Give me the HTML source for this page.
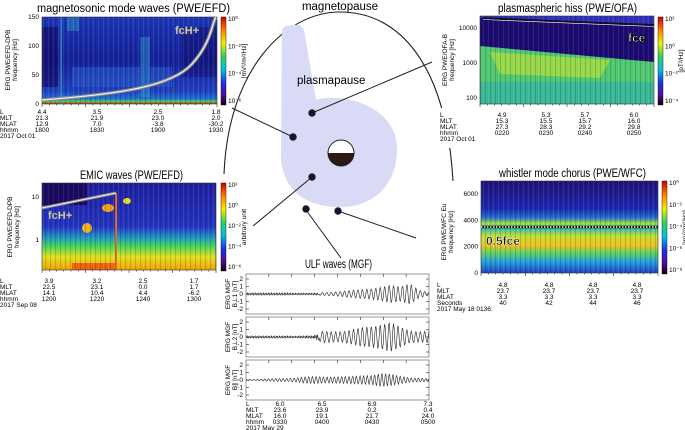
<!DOCTYPE html>
<html><head><meta charset="utf-8">
<style>
html,body{margin:0;padding:0;background:#fff;}
svg{display:block;font-family:"Liberation Sans",sans-serif;}
.t{font-size:6.5px;fill:#000;}
.ttl{font-size:11.5px;fill:#000;}
</style></head>
<body>
<svg id="fig" width="685" height="430" viewBox="0 0 685 430" xmlns="http://www.w3.org/2000/svg">
<defs>
<linearGradient id="jet" x1="0" y1="0" x2="0" y2="1">
<stop offset="0" stop-color="#d00000"/><stop offset="0.15" stop-color="#ff8000"/><stop offset="0.3" stop-color="#f0f000"/>
<stop offset="0.45" stop-color="#30d060"/><stop offset="0.6" stop-color="#00c0e0"/><stop offset="0.75" stop-color="#2030e0"/>
<stop offset="0.88" stop-color="#5010a0"/><stop offset="1" stop-color="#100010"/></linearGradient>
<linearGradient id="ms" x1="0" y1="0" x2="0" y2="1">
<stop offset="0" stop-color="#1c36b8"/><stop offset="0.5" stop-color="#16229a"/><stop offset="0.85" stop-color="#2040c0"/><stop offset="0.94" stop-color="#2070d0"/><stop offset="0.97" stop-color="#40d060"/><stop offset="1" stop-color="#e02000"/></linearGradient>
<linearGradient id="ch" x1="0" y1="0" x2="0" y2="1">
<stop offset="0" stop-color="#24107a"/><stop offset="0.3" stop-color="#1c28b0"/><stop offset="0.4" stop-color="#2470d0"/><stop offset="0.46" stop-color="#a0e040"/><stop offset="0.52" stop-color="#40c0a0"/><stop offset="0.6" stop-color="#c0e030"/><stop offset="0.7" stop-color="#f0c020"/><stop offset="0.78" stop-color="#60d060"/><stop offset="0.88" stop-color="#20a0e0"/><stop offset="1" stop-color="#2040c0"/></linearGradient>
<linearGradient id="em" x1="0" y1="0" x2="0" y2="1">
<stop offset="0" stop-color="#2020a0"/><stop offset="0.5" stop-color="#2434c0"/><stop offset="0.62" stop-color="#2090c8"/><stop offset="0.72" stop-color="#40d060"/><stop offset="0.85" stop-color="#e0e020"/><stop offset="1" stop-color="#f0a000"/></linearGradient>
<pattern id="stripes" width="5" height="10" patternUnits="userSpaceOnUse"><rect width="1" height="10" fill="#000" opacity="0.15"/><rect x="3" width="1" height="10" fill="#fff" opacity="0.08"/></pattern>
</defs>

<g>
<path d="M224,174 C228,70 285,12 340,12 C398,12 446,62 453,181" fill="none" stroke="#222" stroke-width="1.1"/>
<path d="M282,30 Q284,24 300,25 L304,30 L316,100 C340,92 398,105 397,150 C396,195 362,209 335,207 C300,205 284,186 281,160 Z" fill="#d8daf6"/>
<text class="ttl" x="340" y="10" text-anchor="middle" font-size="10.5">magnetopause</text>
<text class="ttl" x="297" y="84" font-size="10.5">plasmapause</text>
<g><circle cx="341" cy="153" r="13" fill="#fff" stroke="#222" stroke-width="1"/><path d="M328,153 A13,13 0 0 0 354,153 Z" fill="#2a1a14"/></g>
<g stroke="#222" stroke-width="1" fill="#1a1030">
<line x1="293" y1="137" x2="232" y2="108"/><line x1="312" y1="113" x2="432" y2="62"/><line x1="312" y1="177" x2="253" y2="226"/><line x1="306" y1="210" x2="341" y2="258"/><line x1="338" y1="211" x2="416" y2="238"/>
<circle cx="293" cy="137" r="3.2"/><circle cx="312" cy="113" r="3.2"/><circle cx="312" cy="177" r="3.2"/><circle cx="306" cy="209" r="3.2"/><circle cx="338" cy="211" r="3.2"/>
</g>
</g>
<rect x="433" y="108" width="46" height="40" fill="#fff"/>
<g id="panels"></g>
</svg>
<script>
const msYTicks=[0,50,100,150];
const msRows=[["4.4","3.5","2.5","1.8"],["21.3","21.9","23.0","2.0"],["12.9","7.0","-3.8","-30.2"],["1800","1830","1900","1930"]];
const hsYTicks=[100,1000,10000];
const hsRows=[["4.9","5.3","5.7","6.0"],["15.3","15.5","15.7","16.0"],["27.3","28.3","29.2","29.8"],["0220","0230","0240","0250"]];
const emYTicks=[1,10];
const emRows=[["3.9","3.2","2.5","1.7"],["22.5","23.1","0.0","1.7"],["14.1","10.4","4.4","-6.2"],["1200","1220","1240","1300"]];
const chYTicks=[0,2000,4000,6000];
const chRows=[["4.8","4.8","4.8","4.8"],["23.7","23.7","23.7","23.7"],["3.3","3.3","3.3","3.3"],["40","42","44","46"]];
const ulfRows=[["6.0","6.5","6.9","7.3"],["23.6","23.9","0.2","0.4"],["16.0","19.1","21.7","24.0"],["0330","0400","0430","0500"]];
const ulfYTicks=[-2,-1,0,1,2];
const ulfAmp1=[0.15,0.15,0.15,0.15,0.15,0.12,0.12,0.12,0.2,0.25,0.35,0.5,0.6,0.7,0.9,1.2,1.0,1.4,0.5,0.2];
const ulfAmp2=[0.15,0.15,0.15,0.15,0.15,0.12,0.15,0.2,0.8,0.7,0.7,1.0,1.3,1.4,1.6,2.0,1.4,0.8,0.7,0.8];
const ulfAmp3=[0.05,0.1,0.15,0.2,0.2,0.25,0.4,0.5,0.4,0.4,0.45,0.5,0.55,0.6,0.9,0.8,0.5,0.3,0.25,0.2];

const NS="http://www.w3.org/2000/svg";
const root=document.getElementById('panels');
function el(tag,attrs,parent,txt){const e=document.createElementNS(NS,tag);for(const k in attrs)e.setAttribute(k,attrs[k]);if(txt!==undefined)e.textContent=txt;(parent||root).appendChild(e);return e;}
function title(g,x0,x1,y,s){el('text',{class:'ttl',x:x0,y:y,textLength:x1-x0,lengthAdjust:'spacingAndGlyphs','font-size':11},g,s);}
function rows(g,labX,cols,y0,vals,last){
  ["L","MLT","MLAT",last[0]].forEach((n,i)=>{el('text',{class:'t',x:labX,y:y0+i*6},g,n);});
  el('text',{class:'t',x:labX,y:y0+24},g,last[1]);
  vals.forEach((r,i)=>r.forEach((v,j)=>{el('text',{class:'t',x:cols[j],y:y0+i*6,'text-anchor':'middle'},g,v);}));
}
function colorbar(g,x,y,h,labels,unit){
  const cb=el('rect',{x:x,y:y,width:5,height:h,fill:'url(#jet)',stroke:'#000','stroke-width':0.4},g);
  
  
  labels.forEach((l,i)=>{const yy=y+4+i*(h-6)/(labels.length-1);el('text',{class:'t',x:x+7,y:yy,'font-size':5.5},g,l);});
  el('text',{class:'t',transform:`translate(${x+25},${y+h/2}) rotate(-90)`,'text-anchor':'middle','font-size':6},g,unit);
}
function frame(g,x,y,w,h){el('rect',{x:x,y:y,width:w,height:h,fill:'url(#stripes)'},g);el('rect',{x:x,y:y,width:w,height:h,fill:'none',stroke:'#333','stroke-width':0.6},g);
  for(let i=0;i<=24;i++){el('line',{x1:x+i*w/24,y1:y+h,x2:x+i*w/24,y2:y+h+(i%6==0?3:1.5),stroke:'#000','stroke-width':0.5},g);}}
function ylabel(g,x,y,l1,l2){el('text',{class:'t',transform:`translate(${x},${y}) rotate(-90)`,'text-anchor':'middle'},g,l1);el('text',{class:'t',transform:`translate(${x+7},${y}) rotate(-90)`,'text-anchor':'middle'},g,l2);}

(function(){
 const g=el('g',{});
 const X=42,Y=17,W=175,H=87;
 title(g,37,230,12,'magnetosonic mode waves (PWE/EFD)');
 el('rect',{x:X,y:Y,width:W,height:H,fill:'url(#ms)'},g);
 el('rect',{x:X,y:Y+10,width:16,height:60,fill:'#140860',opacity:0.6},g);
 el('rect',{x:X+140,y:Y+10,width:35,height:50,fill:'#140860',opacity:0.4},g);
 el('rect',{x:X+98,y:Y+20,width:10,height:60,fill:'#30a0d0',opacity:0.45},g);
 el('rect',{x:X+30,y:Y+50,width:100,height:20,fill:'#2a60d0',opacity:0.5},g);
 el('rect',{x:X+18,y:Y,width:2,height:H,fill:'#40b0d0',opacity:0.6},g);
 el('rect',{x:X+25,y:Y,width:12,height:14,fill:'#30a0c0',opacity:0.45},g);
 frame(g,X,Y,W,H);
 const ys=v=>Y+H-v/150*H;
 msYTicks.forEach(v=>{el('text',{class:'t',x:X-3,y:ys(v)+2,'text-anchor':'end'},g,String(v));});
 const cd=`M${X},${Y+H-4} C${X+80},${Y+H-10} ${X+130},${Y+H-18} ${X+150},${Y+H-40} S${X+170},${Y+5} ${X+174},${Y}`;
 el('path',{d:cd,fill:'none',stroke:'#888','stroke-width':3.5},g);
 el('path',{d:cd,fill:'none',stroke:'#eee','stroke-width':1.2},g);
 el('text',{x:175,y:34,'font-size':11,fill:'#ddd',stroke:'#777','stroke-width':0.5,'font-weight':'bold'},g,'fcH+');
 ylabel(g,10,60,'ERG PWE/EFD-DPB','frequency [Hz]');
 colorbar(g,221,17,88,['10⁰','10⁻²','10⁻⁴','10⁻⁶'],'[mV²/m²/Hz]');
 rows(g,0,[42,97,158,216],114,msRows,['hhmm','2017 Oct 01']);
})();
(function(){
 const g=el('g',{});
 const X=480,Y=16,W=174,H=88;
 title(g,498,637,12,'plasmaspheric hiss (PWE/OFA)');
 el('rect',{x:X,y:Y,width:W,height:H,fill:'#30b0a0'},g);
 el('path',{d:`M${X},${Y+30} L${X+W},${Y+46} L${X+W},${Y+H} L${X},${Y+H}Z`,fill:'#50c870'},g);
 el('path',{d:`M${X+10},${Y+36} L${X+130},${Y+44} L${X+120},${Y+62} L${X+20},${Y+58}Z`,fill:'#a8dc40',opacity:0.8},g);
 el('rect',{x:X,y:Y+66,width:W,height:22,fill:'#30b0a8',opacity:0.7},g);
 el('path',{d:`M${X},${Y} L${X+W},${Y} L${X+W},${Y+46} L${X},${Y+30}Z`,fill:'#1c0c72'},g);
 el('path',{d:`M${X},${Y} L${X+W},${Y} L${X+W},${Y+8} L${X},${Y+2}Z`,fill:'#3030c0'},g);
 frame(g,X,Y,W,H);
 el('line',{x1:X+3,y1:Y+2,x2:X+W,y2:Y+9,stroke:'#111','stroke-width':1.6},g);
 el('line',{x1:X+3,y1:Y+3.5,x2:X+W,y2:Y+10.5,stroke:'#fff','stroke-width':0.6},g);
 el('text',{x:628,y:42,'font-size':12,fill:'#fff',stroke:'#000','stroke-width':0.7,'font-weight':'bold'},g,'fce');
 const ys=v=>Y+H-6-(Math.log10(v)-2)*35;
 hsYTicks.forEach(v=>{el('text',{class:'t',x:X-3,y:ys(v)+2,'text-anchor':'end'},g,String(v));});
 ylabel(g,447,60,'ERG PWE/OFA-B','frequency [Hz]');
 colorbar(g,658,17,88,['10²','10⁰','10⁻²','10⁻⁴'],'[pT²/Hz]');
 rows(g,440,[502,546,585,634],117,hsRows,['hhmm','2017 Oct 01']);
})();
(function(){
 const g=el('g',{});
 const X=42,Y=183,W=174,H=87;
 title(g,80,183,179,'EMIC waves (PWE/EFD)');
 el('rect',{x:X,y:Y,width:W,height:H,fill:'url(#em)'},g);
 el('rect',{x:X,y:Y,width:45,height:22,fill:'#1a0a60'},g);
 el('ellipse',{cx:87,cy:228,rx:5,ry:5,fill:'#f0b020'},g);el('ellipse',{cx:108,cy:208,rx:6,ry:4,fill:'#f0a020'},g);el('ellipse',{cx:127,cy:201,rx:4,ry:3,fill:'#e0e020'},g);
 el('rect',{x:X+30,y:Y+80,width:45,height:7,fill:'#f04010',opacity:0.7},g);
 el('rect',{x:115,y:Y+10,width:2,height:H-10,fill:'#f07020'},g);
 frame(g,X,Y,W,H);
 el('line',{x1:X,y1:Y+25,x2:X+74,y2:Y+10,stroke:'#888','stroke-width':3},g);
 el('line',{x1:X,y1:Y+25,x2:X+74,y2:Y+10,stroke:'#eee','stroke-width':1},g);
 el('text',{x:48,y:219,'font-size':11,fill:'#ddd',stroke:'#777','stroke-width':0.5,'font-weight':'bold'},g,'fcH+');
 const ys=v=>Y+57-Math.log10(v)*43;
 emYTicks.forEach(v=>{el('text',{class:'t',x:X-3,y:ys(v)+2,'text-anchor':'end'},g,String(v));});
 ylabel(g,12,227,'ERG PWE/EFD-DPB','frequency [Hz]');
 colorbar(g,221,183,88,['10²','10⁰','10⁻²','10⁻⁴','10⁻⁶'],'arbitrary unit');
 rows(g,0,[49,97,143,194],283,emRows,['hhmm','2017 Sep 08']);
})();
(function(){
 const g=el('g',{});
 const X=481,Y=181,W=177,H=92;
 title(g,499,646,177,'whistler mode chorus (PWE/WFC)');
 el('rect',{x:X,y:Y,width:W,height:H,fill:'url(#ch)'},g);
 frame(g,X,Y,W,H);
 const ys=v=>Y+H-v/7000*H;
 el('line',{x1:X,y1:ys(3500),x2:X+W,y2:ys(3500),stroke:'#000','stroke-width':2.4},g);
 el('line',{x1:X,y1:ys(3500),x2:X+W,y2:ys(3500),stroke:'#fff','stroke-width':1.4,'stroke-dasharray':'1.5,1.5'},g);
 el('text',{x:486,y:245,'font-size':12,fill:'#111',stroke:'#fff','stroke-width':0.4,'font-weight':'bold'},g,'0.5fce');
 chYTicks.forEach(v=>{el('text',{class:'t',x:X-3,y:ys(v)+2,'text-anchor':'end'},g,String(v));});
 ylabel(g,446,232,'ERG PWE/WFC Eu','frequency [Hz]');
 colorbar(g,662,181,93,['10⁰','10⁻²','10⁻⁴','10⁻⁶','10⁻⁸'],'[mV²/m²/Hz]');
 rows(g,437,[503,549,593,637],287,chRows,['Seconds','2017 May 18 0136:']);
})();
(function(){
 const g=el('g',{});
 title(g,305,372,268,'ULF waves (MGF)');
 const X=246,W=183,H=40;
 const tops=[274,317,360];const amps=[ulfAmp1,ulfAmp2,ulfAmp3];const labs=['B⊥1 [nT]','B⊥2 [nT]','B∥ [nT]'];
 tops.forEach((Y,k)=>{
  el('rect',{x:X,y:Y,width:W,height:H,fill:'none',stroke:'#555','stroke-width':0.6},g);
  const ys=v=>Y+H/2-v*7.5;
  ulfYTicks.forEach(v=>{el('text',{class:'t',x:X-3,y:ys(v)+2,'text-anchor':'end'},g,String(v));el('line',{x1:X,y1:ys(v),x2:X+3,y2:ys(v),stroke:'#000','stroke-width':0.5},g);el('line',{x1:X+W-3,y1:ys(v),x2:X+W,y2:ys(v),stroke:'#000','stroke-width':0.5},g);});
  for(let i=1;i<8;i++)el('line',{x1:X+i*W/8,y1:Y,x2:X+i*W/8,y2:Y+3,stroke:'#000','stroke-width':0.5},g);
  const a=amps[k];let d='';const N=300;
  for(let i=0;i<=N;i++){const f=i/N*(a.length-1);const j=Math.floor(f);const amp=a[j]+(a[Math.min(j+1,a.length-1)]-a[j])*(f-j);
   const per=k==2?6:(i<N*0.4?2.6:7.3);const v=amp*Math.sin(i*2*Math.PI/per+0.7);
   d+=(i?'L':'M')+(X+i/N*W).toFixed(1)+','+ys(v).toFixed(1);}
  const p=el('path',{d:d,fill:'none',stroke:'#222','stroke-width':0.6},g);
  
  
  ylabel(g,230,Y+H/2,'ERG MGF',labs[k]);
 });
 rows(g,246,[280,322,372,428],406,ulfRows,['hhmm','2017 May 29']);
})();
</script>
</body></html>
